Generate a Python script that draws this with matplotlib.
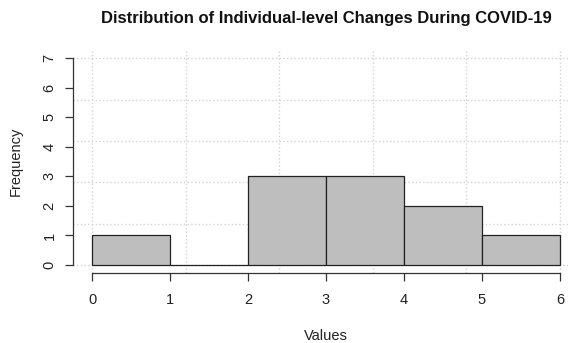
import numpy as np
import matplotlib
matplotlib.use("Agg")
import matplotlib.pyplot as plt

# Dados do histograma (limites das classes e frequencias)
limites = [0, 1, 2, 3, 4, 5, 6]
frequencias = [1, 0, 3, 3, 2, 1]
ticks_x = [0, 1, 2, 3, 4, 5, 6]
ticks_y = [0, 1, 2, 3, 4, 5, 6, 7]

plt.rcParams['font.family'] = ['Liberation Sans', 'DejaVu Sans']

fig = plt.figure(figsize=(5.70, 3.43), dpi=100)
ax = fig.add_axes([0.1286, 0.2032, 0.8867, 0.651])

# Grade pontilhada (5 divisoes em cada eixo)
for gx in np.linspace(0, 6, 6):
    ax.axvline(gx, color='#d3d3d3', linestyle=':', linewidth=1, zorder=0)
for gy in np.linspace(0, 7, 6):
    ax.axhline(gy, color='#d3d3d3', linestyle=':', linewidth=1, zorder=0)

# Barras do histograma
larguras = np.diff(limites)
ax.bar(limites[:-1], frequencias, width=larguras, align='edge',
       color='#bebebe', edgecolor='#222222', linewidth=0.9, zorder=2)

ax.set_xlim(-0.24, 6.24)
ax.set_ylim(-0.28, 7.28)

# Eixos no estilo do R: separados da area do grafico
for lado in ['top', 'right']:
    ax.spines[lado].set_visible(False)
ax.spines['left'].set_bounds(0, 7)
ax.spines['bottom'].set_bounds(0, 6)
for lado in ['left', 'bottom']:
    ax.spines[lado].set_color('#333333')
    ax.spines[lado].set_linewidth(0.9)

ax.set_xticks(ticks_x)
ax.set_yticks(ticks_y)
ax.tick_params(axis='both', direction='out', length=6, width=0.9,
               color='#333333', labelsize=10.5, labelcolor='#222222')
ax.tick_params(axis='x', pad=8)
ax.tick_params(axis='y', pad=6)
for lbl in ax.get_yticklabels():
    lbl.set_rotation(90)
    lbl.set_va('center')

ax.set_xlabel('Values', fontsize=10.5, color='#222222', labelpad=16)
ax.set_ylabel('Frequency', fontsize=10.5, color='#222222', labelpad=14)
fig.text(0.5719, 0.947, 'Distribution of Individual-level Changes During COVID-19',
         ha='center', va='center', fontsize=12, fontweight='bold', color='#111111')

fig.savefig('out.png', dpi=100)
